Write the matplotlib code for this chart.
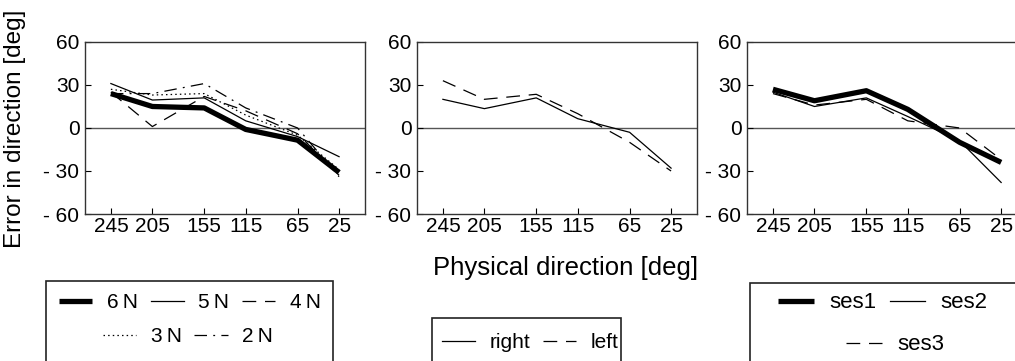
# Three panels: direction error vs physical direction (force, side, session)
import matplotlib
matplotlib.use("Agg")
import matplotlib.pyplot as plt
from matplotlib.patches import Rectangle
from matplotlib.lines import Line2D

plt.rcParams['font.family'] = ['Liberation Sans', 'DejaVu Sans']
plt.rcParams['font.size'] = 15

directions = [245, 205, 155, 115, 65, 25]
ytick_vals = [60, 30, 0, -30, -60]
ytick_labels = ["60", "30", "0", "- 30", "- 60"]

# panel 1: force levels
force_labels = ["6\u2009N", "5\u2009N", "4\u2009N", "3\u2009N", "2\u2009N"]
force_6n = [24, 15, 14, -1, -8.5, -31]
force_5n = [31, 19.5, 21, 5, -6, -20]
force_4n = [25, 1, 22, 12, -4, -33]
force_3n = [27, 23, 24, 9, -5, -29]
force_2n = [24, 24, 31, 14, 0, -34]

# panel 2: side
side_labels = ["right", "left"]
side_right = [20, 13.5, 21, 6.5, -3, -28]
side_left = [33, 20, 23.5, 10, -10, -30]

# panel 3: sessions
ses_labels = ["ses1", "ses2", "ses3"]
ses1 = [27, 19, 26, 13, -10, -24]
ses2 = [25, 15, 21, 8, -9, -38]
ses3 = [24, 16, 20, 5, 0, -22]

thick = dict(color='black', lw=3.8, linestyle='-', solid_capstyle='butt')
thin = dict(color='black', lw=0.9, linestyle='-')
dashed = dict(color='black', lw=0.9, linestyle=(0, (11, 7)))
dotted = dict(color='black', lw=0.9, linestyle=(0, (1.2, 2.5)))
dashdot = dict(color='black', lw=0.9, linestyle=(0, (10, 5, 1.5, 5)))

fig = plt.figure(figsize=(10.15, 3.61), dpi=100)

bottom, height, width = 0.4072, 0.4765, 0.2759
lefts = [0.0837, 0.4108, 0.736]
axes = [fig.add_axes([l, bottom, width, height]) for l in lefts]

for ax in axes:
    ax.set_xlim(270, 0)
    ax.set_ylim(-60, 60)
    ax.axhline(0, color='#555555', lw=1.0, zorder=1)
    ax.set_xticks(directions)
    ax.set_xticklabels([str(d) for d in directions])
    ax.set_yticks(ytick_vals)
    ax.set_yticklabels(ytick_labels)
    ax.tick_params(direction='in', length=4, width=0.8, labelsize=15)
    ax.tick_params(axis='x', pad=2)
    ax.tick_params(axis='y', pad=4)
    for s in ax.spines.values():
        s.set_color('#333333')
        s.set_linewidth(1.0)

ax1, ax2, ax3 = axes
ax1.plot(directions, force_6n, **thick)
ax1.plot(directions, force_5n, **thin)
ax1.plot(directions, force_4n, **dashed)
ax1.plot(directions, force_3n, **dotted)
ax1.plot(directions, force_2n, **dashdot)

ax2.plot(directions, side_right, **thin)
ax2.plot(directions, side_left, **dashed)

ax3.plot(directions, ses1, **thick)
ax3.plot(directions, ses2, **thin)
ax3.plot(directions, ses3, **dashed)

fig.text(15 / 1015, 0.644, "Error in direction [deg]", rotation=90,
         ha='center', va='center', fontsize=17.5)
fig.text(566 / 1015, 1 - 268 / 361, "Physical direction [deg]",
         ha='center', va='center', fontsize=18.5)

# legend boxes (cut off at the bottom of the figure)
W, H = 1015.0, 361.0
def box(x0, x1, ytop):
    fig.patches.append(Rectangle((x0 / W, -0.1), (x1 - x0) / W, (H - ytop) / H + 0.1,
                                 transform=fig.transFigure, fill=False,
                                 edgecolor='#222222', lw=1.2))

box(46, 333, 281)
box(432, 621, 318)
box(750, 1030, 283)

def h(style):
    return Line2D([], [], **style)

leg_kw = dict(frameon=False, fontsize=15, handlelength=1.6, handletextpad=0.7,
              columnspacing=0.6, borderpad=0, borderaxespad=0)

l1 = fig.legend([h(thick), h(thin), h(dashed)], force_labels[:3], ncol=3,
                loc='center', bbox_to_anchor=(190 / W, 1 - 303 / H), **leg_kw)
l2 = fig.legend([h(dotted), h(dashdot)], force_labels[3:], ncol=2,
                loc='center', bbox_to_anchor=(188 / W, 1 - 337 / H), **leg_kw)
l3 = fig.legend([h(thin), h(dashed)], side_labels, ncol=2,
                loc='center', bbox_to_anchor=(530 / W, 1 - 343 / H), **leg_kw)
l4 = fig.legend([h(thick), h(thin)], ses_labels[:2], ncol=2,
                loc='center', bbox_to_anchor=(883 / W, 1 - 303 / H),
                **dict(leg_kw, fontsize=16))
l5 = fig.legend([h(dashed)], ses_labels[2:], ncol=1,
                loc='center', bbox_to_anchor=(895 / W, 1 - 345 / H),
                **dict(leg_kw, fontsize=16))

fig.savefig("out.png", dpi=100)
